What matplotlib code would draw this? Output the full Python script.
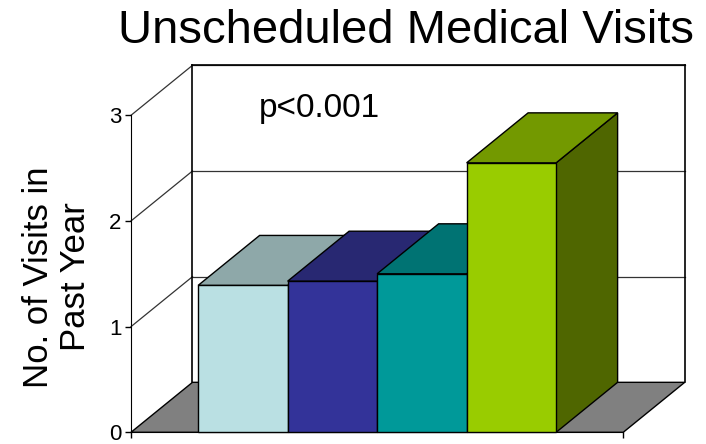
import matplotlib.pyplot as plt
from matplotlib.patches import Polygon

plt.rcParams['font.family'] = ['Liberation Sans', 'DejaVu Sans']

# mean unscheduled visits per group
groups = ['Group 1', 'Group 2', 'Group 3', 'Group 4']
visits = [1.39, 1.43, 1.50, 2.55]
front_colors = ['#BAE0E3', '#333399', '#009999', '#99CC00']
top_colors = ['#8EA8A9', '#282872', '#007373', '#739900']
side_colors = ['#6E8486', '#1F1F58', '#005858', '#4F6600']
yticks = [0, 1, 2, 3]

# fake-3D depth offset (data units)
DX, DY = 0.687, 0.473
floor_w = 5.5
bar_w = 1.0
x_start = 0.75

fig = plt.figure(figsize=(7.06, 4.44), dpi=100)
ax = fig.add_axes([0, 0, 1, 1])
ax.set_xlim(-131 / 89.5, (706 - 131) / 89.5)
ax.set_ylim(-11.7 / 105.67, (444 - 11.7) / 105.67)
ax.patch.set_visible(False)

# walls and gridlines
for v in yticks[1:]:
    ax.plot([DX, floor_w + DX], [v + DY, v + DY], color='#333333', lw=0.9, zorder=1)
    ax.plot([0, DX], [v, v + DY], color='#333333', lw=0.9, zorder=1)
ax.plot([DX, floor_w + DX], [3 + DY, 3 + DY], color='black', lw=1.2, zorder=1)
ax.plot([DX, DX], [DY, 3 + DY], color='black', lw=1.2, zorder=1)
ax.plot([floor_w + DX, floor_w + DX], [DY, 3 + DY], color='black', lw=1.2, zorder=1)

# floor
ax.add_patch(Polygon([(0, 0), (floor_w, 0), (floor_w + DX, DY), (DX, DY)],
                     closed=True, facecolor='#808080', edgecolor='black',
                     lw=1, zorder=2))

# bars, left to right so each one hides the side of the previous
for i, v in enumerate(visits):
    x0 = x_start + i * bar_w
    x1 = x0 + bar_w
    z = 3 + i
    ax.add_patch(Polygon([(x1, 0), (x1 + DX, DY), (x1 + DX, v + DY), (x1, v)],
                         closed=True, facecolor=side_colors[i],
                         edgecolor='black', lw=1, zorder=z))
    ax.add_patch(Polygon([(x0, v), (x1, v), (x1 + DX, v + DY), (x0 + DX, v + DY)],
                         closed=True, facecolor=top_colors[i],
                         edgecolor='black', lw=1, zorder=z))
    ax.bar(x0, v, width=bar_w, align='edge', color=front_colors[i],
           edgecolor='black', lw=1, zorder=z)

# front axes
for s in ['top', 'right']:
    ax.spines[s].set_visible(False)
ax.spines['left'].set_position(('data', 0))
ax.spines['left'].set_bounds(0, 3)
ax.spines['bottom'].set_position(('data', 0))
ax.spines['bottom'].set_bounds(0, floor_w)
ax.set_yticks(yticks)
ax.set_yticklabels([str(t) for t in yticks])
ax.set_xticks([0, floor_w])
ax.set_xticklabels(['', ''])
ax.tick_params(direction='out', length=4, width=1, pad=3, labelsize=16)

fig.text(406 / 706, 1 - 31 / 444, 'Unscheduled Medical Visits',
         ha='center', va='center', fontsize=34)
fig.text(57 / 706, 1 - 277 / 444, 'No. of Visits in\nPast Year', rotation=90,
         ha='center', va='center', fontsize=25, linespacing=1.15)
fig.text(259 / 706, 1 - 117 / 444, 'p<0.001', ha='left', va='baseline',
         fontsize=24)

plt.savefig('out.png', dpi=100)
